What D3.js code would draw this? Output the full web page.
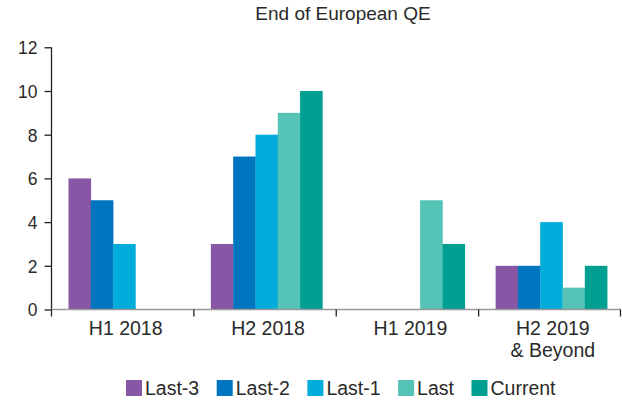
<!DOCTYPE html>
<html><head><meta charset="utf-8">
<script src="https://cdn.jsdelivr.net/npm/d3@7"></script>
<style>body{margin:0;background:#fff}svg{display:block}text{font-family:"Liberation Sans",Arial,sans-serif;fill:#2a2a2a}</style>
</head><body><svg id="c" width="622" height="400"></svg>
<script>
const categories = [["H1 2018"],["H2 2018"],["H1 2019"],["H2 2019","& Beyond"]];
const categoryKeys = ["H1 2018","H2 2018","H1 2019","H2 2019 & Beyond"];
const seriesNames = ["Last-3","Last-2","Last-1","Last","Current"];
const last3 = [6,3,0,2];
const last2 = [5,7,0,2];
const last1 = [3,8,0,4];
const last = [0,9,5,1];
const current = [0,10,3,2];
const yTicks = [0,2,4,6,8,10,12];
const colors = ["#8756a4","#0075bf","#00acd9","#55c3b5","#009f91"];
const title = "End of European QE";

const series = [last3,last2,last1,last,current];
const svg = d3.select("#c");
const L=51.5, R=621, T=47.3, B=309.5;
const x0 = d3.scaleBand().domain(categoryKeys).range([L,R]);
const x1 = d3.scaleBand().domain(seriesNames).range([17,128.5]);
const y = d3.scaleLinear().domain([0,12]).range([B,T]);

svg.append("text").attr("x",343).attr("y",20).attr("text-anchor","middle")
  .style("font-size","19px").text(title);

// bars
categoryKeys.forEach((c,ci)=>{
  series.forEach((s,si)=>{
    if(s[ci]>0) svg.append("rect")
      .attr("x",x0(c)+x1(seriesNames[si]))
      .attr("width",x1.bandwidth()+0.3)
      .attr("y",y(s[ci])).attr("height",B-y(s[ci]))
      .attr("fill",colors[si]);
  });
});

// y axis
const ya = svg.append("g").attr("transform",`translate(${L},0)`)
  .call(d3.axisLeft(y).tickValues(yTicks).tickSize(7).tickPadding(7));
ya.select(".domain").attr("stroke","#222").attr("stroke-width",1.3).attr("d",`M0,${T}V${B}`);
ya.selectAll(".tick line").attr("stroke","#222").attr("stroke-width",1.3);
ya.selectAll(".tick text").style("font-size","17.5px").style("fill","#2a2a2a").attr("dy","0.36em");

// baseline
svg.append("line").attr("x1",L).attr("x2",R).attr("y1",B).attr("y2",B)
  .attr("stroke","#999").attr("stroke-width",1.5);
// category ticks
const bounds = categoryKeys.map(c=>x0(c)).concat([R-0.5]);
svg.selectAll(".ct").data(bounds).enter().append("line")
  .attr("x1",d=>d).attr("x2",d=>d).attr("y1",B).attr("y2",B+7)
  .attr("stroke","#222").attr("stroke-width",1.3);
// category labels
categoryKeys.forEach((c,ci)=>{
  const cx = x0(c)+x0.bandwidth()/2+3;
  const t = svg.append("text").attr("text-anchor","middle")
    .attr("x",cx).attr("y",335).style("font-size","19.5px");
  categories[ci].forEach((line,li)=>{
    t.append("tspan").attr("x",cx).attr("dy",li?21.5:0).text(line);
  });
});

// legend
let lx = 126;
seriesNames.forEach((n,i)=>{
  svg.append("rect").attr("x",lx).attr("y",380).attr("width",16).attr("height",16).attr("fill",colors[i]);
  const t = svg.append("text").attr("x",lx+19).attr("y",395).style("font-size","19.5px").text(n);
  lx += 19 + t.node().getComputedTextLength() + 17.5;
});
</script></body></html>
